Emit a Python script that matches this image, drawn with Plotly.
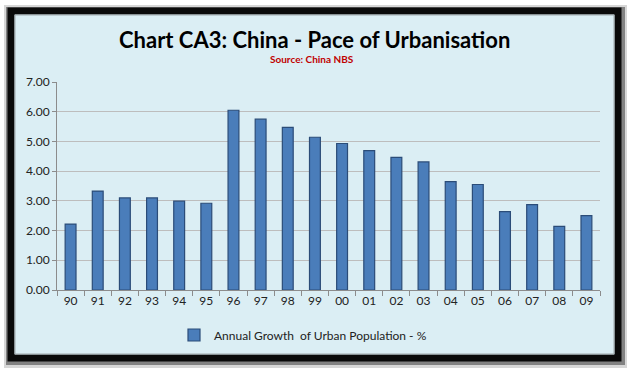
import plotly.graph_objects as go

years = ["90", "91", "92", "93", "94", "95", "96", "97", "98", "99",
         "00", "01", "02", "03", "04", "05", "06", "07", "08", "09"]
growth = [2.22, 3.33, 3.10, 3.10, 2.99, 2.92, 6.05, 5.75, 5.47, 5.14,
          4.93, 4.69, 4.46, 4.31, 3.65, 3.55, 2.64, 2.87, 2.14, 2.50]
y_ticks = [0, 1, 2, 3, 4, 5, 6, 7]
y_tick_labels = ["0.00", "1.00", "2.00", "3.00", "4.00", "5.00", "6.00", "7.00"]

W, H = 628, 369
L, R, T, B = 57, 28, 82, 79
pw, ph = W - L - R, H - T - B

def px(x):
    return (x - L) / pw

def py(y):
    return (H - B - y) / ph

fig = go.Figure()
fig.add_trace(go.Bar(
    x=years, y=growth,
    name="Annual Growth  of Urban Population - %",
    marker=dict(color="#4A7DBA", line=dict(color="#2B4C78", width=1.2)),
    width=0.4,
))

shapes = [
    # shadow
    dict(type="rect", xref="paper", yref="paper", layer="below",
         x0=px(4), x1=px(627), y0=py(368), y1=py(5),
         fillcolor="rgba(140,140,140,0.35)", line=dict(width=0)),
    dict(type="rect", xref="paper", yref="paper", layer="below",
         x0=px(6), x1=px(625), y0=py(365), y1=py(7),
         fillcolor="rgba(60,60,60,0.55)", line=dict(width=0)),
    # black frame with light blue fill
    dict(type="rect", xref="paper", yref="paper", layer="below",
         x0=px(11), x1=px(618), y0=py(358), y1=py(11),
         fillcolor="#DBEEF4", line=dict(color="#0A0A0A", width=7)),
    # thin inner gray border
    dict(type="rect", xref="paper", yref="paper", layer="below",
         x0=px(15), x1=px(614), y0=py(354), y1=py(15),
         fillcolor="rgba(0,0,0,0)", line=dict(color="#A0A8AC", width=1)),
]

fig.update_layout(
    width=W, height=H,
    margin=dict(l=L, r=R, t=T, b=B, autoexpand=False),
    paper_bgcolor="white",
    plot_bgcolor="white",
    font=dict(family="Lato, Open Sans, sans-serif", color="#222222", size=12),
    shapes=shapes,
    showlegend=True,
    legend=dict(orientation="h", x=px(174), xanchor="left",
                yref="container", y=1 - 335 / H, yanchor="middle",
                font=dict(size=12, color="#222222"),
                bgcolor="rgba(0,0,0,0)"),
    annotations=[
        dict(text="<b>Chart CA3: China - Pace of Urbanisation</b>",
             xref="paper", yref="paper", x=px(314), y=py(39),
             xanchor="center", yanchor="middle", showarrow=False,
             font=dict(size=22, color="#000000", family="Lato, sans-serif")),
        dict(text="<b>Source: China NBS</b>",
             xref="paper", yref="paper", x=px(312), y=py(59),
             xanchor="center", yanchor="middle", showarrow=False,
             font=dict(size=10, color="#C00000", family="Lato, sans-serif")),
    ],
)
fig.update_xaxes(
    showline=True, linecolor="#8C8C8C", linewidth=1,
    ticks="outside", ticklen=5, tickcolor="#8C8C8C",
    tickson="boundaries", showgrid=False,
    tickfont=dict(size=12, color="#222222"),
)
fig.update_yaxes(
    range=[0, 7], tickvals=y_ticks, ticktext=y_tick_labels,
    showline=True, linecolor="#8C8C8C", linewidth=1,
    ticks="outside", ticklen=4, tickcolor="#8C8C8C",
    showgrid=True, gridcolor="#BDBDBD", gridwidth=1,
    zeroline=False,
    tickfont=dict(size=12, color="#222222"),
)

fig.write_html("out.html",
               config={"displayModeBar": False},
               post_script="document.body.style.margin='0';document.body.style.padding='0';")
